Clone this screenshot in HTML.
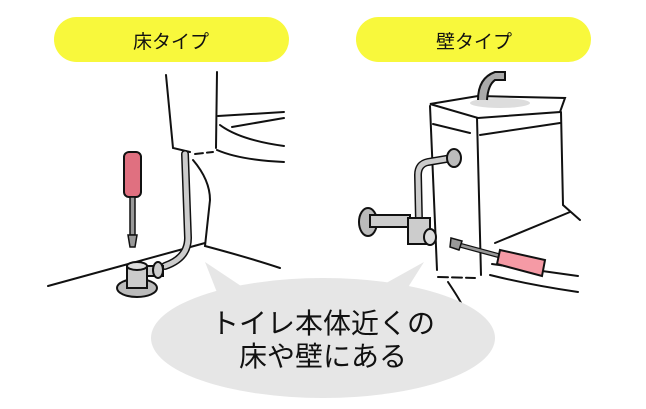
<!DOCTYPE html>
<html><head><meta charset="utf-8"><style>
html,body{margin:0;padding:0;background:#fff;}
body{width:646px;height:404px;overflow:hidden;font-family:"Liberation Sans","Noto Sans CJK JP",sans-serif;}
</style></head><body>
<svg width="646" height="404" viewBox="0 0 646 404" xmlns="http://www.w3.org/2000/svg">
<rect x="54" y="17" width="235" height="45" rx="22.5" fill="#f8f83c"/>
<rect x="356" y="17" width="235" height="45" rx="22.5" fill="#f8f83c"/>
<text x="171" y="48" font-size="19" text-anchor="middle" font-family="Noto Sans CJK JP,sans-serif" fill="#111">床タイプ</text>
<text x="474" y="48" font-size="19" text-anchor="middle" font-family="Noto Sans CJK JP,sans-serif" fill="#111">壁タイプ</text>

<g fill="none" stroke="#111" stroke-width="2" stroke-linecap="round">
<!-- left toilet -->
<path d="M166 75 L173 148 L190 152"/>
<path d="M195 154 L213 152" stroke-dasharray="8 4"/>
<path d="M217 72 L216 148"/>
<path d="M218 116 L284 112"/>
<path d="M232 127 L284 118"/>
<path d="M220 125 Q240 140 284 146"/>
<path d="M217 150 Q240 160 284 162"/>
<path d="M193 160 Q210 180 210 200 L205 246 Q250 258 280 268"/>
<path d="M48 286 L205 243"/>
</g>
<!-- left pipe -->
<path d="M185 154 L188 238 Q188 258 165 266" fill="none" stroke="#111" stroke-width="8" stroke-linecap="round"/>
<path d="M185 154 L188 238 Q188 258 165 266" fill="none" stroke="#ccc" stroke-width="5" stroke-linecap="round"/>
<ellipse cx="137" cy="288" rx="20" ry="9" fill="#bbb" stroke="#111" stroke-width="2"/>
<rect x="127" y="266" width="20" height="22" fill="#ccc" stroke="#111" stroke-width="2"/>
<ellipse cx="137" cy="266" rx="10" ry="4" fill="#ddd" stroke="#111" stroke-width="2"/>
<rect x="147" y="266" width="16" height="10" fill="#ccc" stroke="#111" stroke-width="2"/>
<ellipse cx="158" cy="270" rx="5" ry="8" fill="#ccc" stroke="#111" stroke-width="2"/>
<!-- left screwdriver -->
<rect x="124" y="152" width="17" height="45" rx="5" fill="#e07080" stroke="#111" stroke-width="2"/>
<rect x="130" y="197" width="5" height="38" fill="#999" stroke="#111" stroke-width="1.5"/>
<path d="M128 235 L137 235 L135 247 L130 247 Z" fill="#999" stroke="#111" stroke-width="1.5"/>

<!-- right tank -->
<path d="M430 104 L478 96 L565 98 L560 112 L478 118 Z" fill="#fff" stroke="#111" stroke-width="2"/>
<ellipse cx="500" cy="103" rx="30" ry="5" fill="#ddd"/>
<path d="M478 100 Q478 78 495 72 L505 72 L505 80 L495 80 Q488 85 487 100" fill="#aaa" stroke="#111" stroke-width="2"/>
<g fill="none" stroke="#111" stroke-width="2" stroke-linecap="round">
<path d="M430 106 L437 270"/>
<path d="M477 118 L481 275"/>
<path d="M561 112 L563 205 L580 220"/>
<path d="M433 124 L470 133"/>
<path d="M480 135 L560 123"/>
<path d="M495 243 L570 212"/>
<path d="M490 275 Q530 285 578 292"/>
<path d="M492 264 L578 276"/>
<path d="M438 277 L475 278" stroke-dasharray="10 4"/>
<path d="M448 282 Q460 300 462 305"/>
</g>
<path d="M452 158 L428 162 Q418 164 418 175 L419 222" fill="none" stroke="#111" stroke-width="8"/>
<path d="M452 158 L428 162 Q418 164 418 175 L419 222" fill="none" stroke="#ccc" stroke-width="5"/>
<ellipse cx="454" cy="158" rx="7" ry="9" fill="#bbb" stroke="#111" stroke-width="2"/>
<ellipse cx="368" cy="222" rx="9" ry="14" fill="#bbb" stroke="#111" stroke-width="2"/>
<rect x="370" y="215" width="40" height="12" fill="#ccc" stroke="#111" stroke-width="2"/>
<rect x="408" y="218" width="22" height="26" fill="#ccc" stroke="#111" stroke-width="2"/>
<ellipse cx="430" cy="237" rx="6" ry="8" fill="#ddd" stroke="#111" stroke-width="2"/>
<!-- right screwdriver -->
<path d="M452 243 L500 256" stroke="#111" stroke-width="5"/>
<path d="M452 243 L500 256" stroke="#999" stroke-width="2.5"/>
<path d="M451 238 L462 241 L459 250 L450 247 Z" fill="#999" stroke="#111" stroke-width="1.5"/>
<path d="M500 250 L545 260 L542 276 L497 264 Z" fill="#f59aa5" stroke="#111" stroke-width="2"/>

<!-- bubble -->
<path d="M205 262 L250 292 L220 300 Z" fill="#e6e6e6"/>
<path d="M424 262 L400 300 L370 292 Z" fill="#e6e6e6"/>
<ellipse cx="323" cy="338" rx="172" ry="60" fill="#e6e6e6"/>
<text x="323" y="333" font-size="28" text-anchor="middle" font-family="Noto Sans CJK JP,sans-serif" fill="#111">トイレ本体近くの</text>
<text x="323" y="366" font-size="28" text-anchor="middle" font-family="Noto Sans CJK JP,sans-serif" fill="#111">床や壁にある</text>
</svg>
</body></html>
